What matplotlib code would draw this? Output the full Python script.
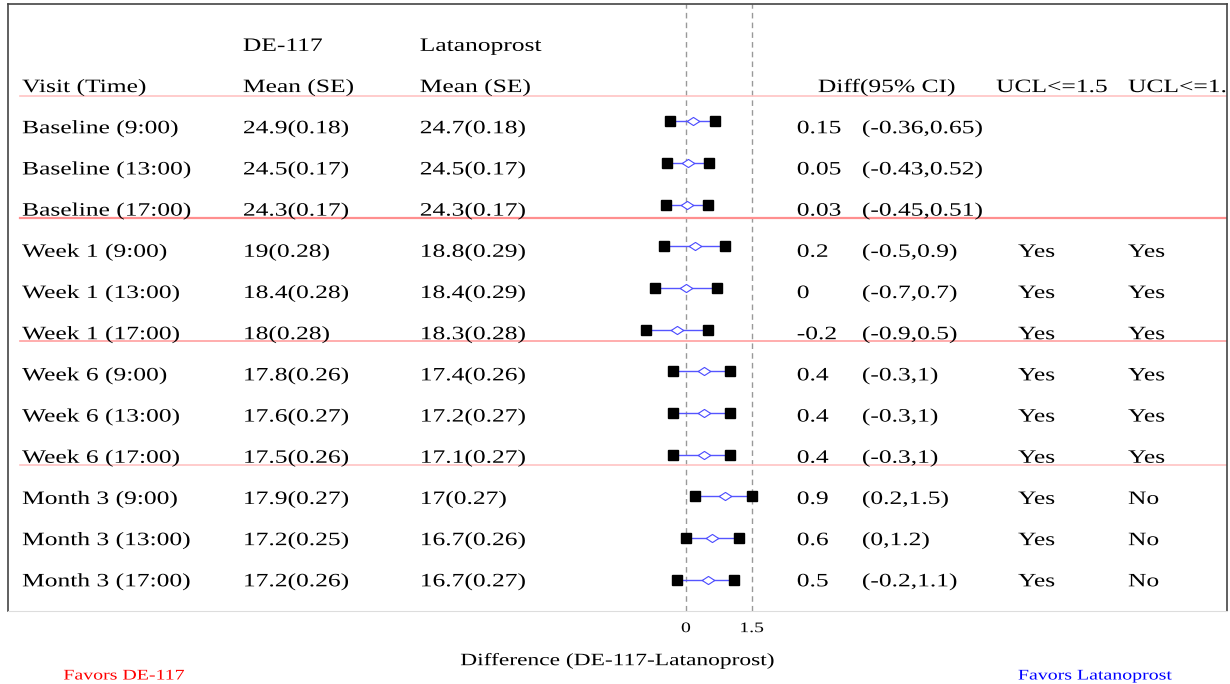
import matplotlib
matplotlib.use("Agg")
import matplotlib.pyplot as plt
from matplotlib.patheffects import AbstractPathEffect
from matplotlib.transforms import Affine2D
import numpy as np

visits = ["Baseline (9:00)", "Baseline (13:00)", "Baseline (17:00)",
          "Week 1 (9:00)", "Week 1 (13:00)", "Week 1 (17:00)",
          "Week 6 (9:00)", "Week 6 (13:00)", "Week 6 (17:00)",
          "Month 3 (9:00)", "Month 3 (13:00)", "Month 3 (17:00)"]
de117 = ["24.9(0.18)", "24.5(0.17)", "24.3(0.17)", "19(0.28)", "18.4(0.28)", "18(0.28)",
         "17.8(0.26)", "17.6(0.27)", "17.5(0.26)", "17.9(0.27)", "17.2(0.25)", "17.2(0.26)"]
latanoprost = ["24.7(0.18)", "24.5(0.17)", "24.3(0.17)", "18.8(0.29)", "18.4(0.29)", "18.3(0.28)",
               "17.4(0.26)", "17.2(0.27)", "17.1(0.27)", "17(0.27)", "16.7(0.26)", "16.7(0.27)"]
diff = [0.15, 0.05, 0.03, 0.2, 0, -0.2, 0.4, 0.4, 0.4, 0.9, 0.6, 0.5]
lcl = [-0.36, -0.43, -0.45, -0.5, -0.7, -0.9, -0.3, -0.3, -0.3, 0.2, 0, -0.2]
ucl = [0.65, 0.52, 0.51, 0.9, 0.7, 0.5, 1, 1, 1, 1.5, 1.2, 1.1]
ucl15 = ["", "", "", "Yes", "Yes", "Yes", "Yes", "Yes", "Yes", "Yes", "Yes", "Yes"]
ucl10 = ["", "", "", "Yes", "Yes", "Yes", "Yes", "Yes", "Yes", "No", "No", "No"]
margins = [0, 1.5]


class Stretch(AbstractPathEffect):
    # widen text horizontally (the source image is stretched)
    def __init__(self, sx, center=False):
        super().__init__()
        self.sx = sx
        self.center = center

    def draw_path(self, renderer, gc, tpath, affine, rgbFace=None):
        if self.center:
            ext = tpath.get_extents(affine)
            cx = (ext.x0 + ext.x1) / 2
        else:
            cx = affine.get_matrix()[0, 2]
        t = affine + Affine2D().translate(-cx, 0).scale(self.sx, 1).translate(cx, 0)
        renderer.draw_path(gc, tpath, t, rgbFace)


plt.rcParams['font.family'] = ['Liberation Serif', 'DejaVu Serif']
fs = 13.6
sx = 1.35
wide = [Stretch(sx)]
wide_c = [Stretch(sx, center=True)]

fig = plt.figure(figsize=(12.3, 6.84), dpi=100)
ax = fig.add_axes([8/1230, 1 - 611/684, 1219/1230, 607/684])
ax.set_xlim(-15.41, 12.30)
ax.set_ylim(11.75, -2.81)

rows = np.arange(len(visits))


def text_y(r):
    # text baselines sit a little below the marks and drift slightly
    return 0.29 + 0.988 * r


def cell(x, r, s, **kw):
    ax.text(x, text_y(r), s, fontsize=fs, path_effects=wide, **kw)


# reference lines
for m in margins:
    ax.axvline(m, color="#999999", lw=1, ls=(0, (4, 3)), zorder=1)

# separators
ax.plot([-15.14, 12.3], [-0.6, -0.6], color="#ffc4c4", lw=1.2, zorder=1)
ax.plot([-15.14, 12.3], [2.33, 2.33], color="#ff8f8f", lw=1.6, zorder=1)
ax.plot([-15.14, 12.3], [5.28, 5.28], color="#ffa0a0", lw=1.2, zorder=1)
ax.plot([-15.14, 12.3], [8.25, 8.25], color="#ffc4c4", lw=1.2, zorder=1)

# forest marks
diamond = [(-1, 0), (0, 0.65), (1, 0), (0, -0.65), (-1, 0)]
for i in rows:
    ax.plot([lcl[i], ucl[i]], [i, i], color="#5555ff", lw=1, zorder=2)
    ax.plot([lcl[i], ucl[i]], [i, i], 's', color="black", ms=7.5, ls="none", zorder=3)
    ax.plot(diff[i], i, marker=diamond, ms=9, mfc="white", mec="#4a4aff", mew=0.8, zorder=4)

# headers
cell(-10.07, -2, "DE-117")
cell(-6.05, -2, "Latanoprost")
cell(-15.09, -1, "Visit (Time)")
cell(-10.07, -1, "Mean (SE)")
cell(-6.05, -1, "Mean (SE)")
cell(3.0, -1, "Diff(95% CI)")
cell(7.05, -1, "UCL<=1.5")
cell(10.05, -1, "UCL<=1.0", clip_on=True)

# table body
for i in rows:
    cell(-15.09, i, visits[i])
    cell(-10.07, i, de117[i])
    cell(-6.05, i, latanoprost[i])
    cell(2.52, i, f"{diff[i]:g}")
    cell(4.0, i, f"({lcl[i]:g},{ucl[i]:g})")
    cell(7.55, i, ucl15[i])
    cell(10.05, i, ucl10[i])

ax.set_xticks(margins)
ax.set_xticklabels(["0", "1.5"], fontsize=10.5)
for lab in ax.get_xticklabels():
    lab.set_path_effects(wide_c)
ax.tick_params(axis="x", length=0, pad=8)
ax.set_yticks([])
ax.set_xlabel("Difference (DE-117-Latanoprost)", fontsize=12.5, labelpad=13,
              path_effects=wide_c)

for side in ["left", "top", "right"]:
    ax.spines[side].set_color("#444444")
    ax.spines[side].set_linewidth(1.2)
ax.spines["bottom"].set_color("#dddddd")

fig.text(124/1230, 1 - 676/684, "Favors DE-117", color="red", fontsize=10.6,
         ha="center", va="center", path_effects=wide_c)
fig.text(1095/1230, 1 - 676/684, "Favors Latanoprost", color="blue", fontsize=10.6,
         ha="center", va="center", path_effects=wide_c)

fig.savefig("out.png", dpi=100)
